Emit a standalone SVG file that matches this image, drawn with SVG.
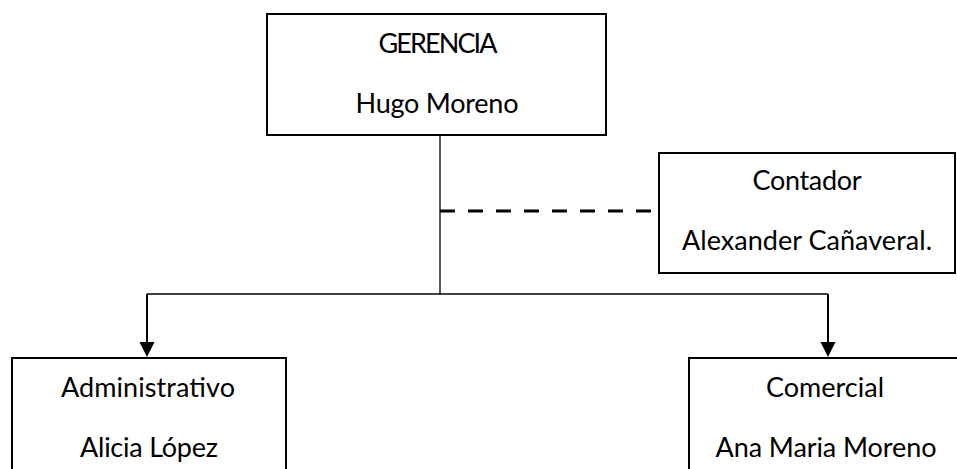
<svg xmlns="http://www.w3.org/2000/svg" width="957" height="469" viewBox="0 0 957 469">
<style>
.box{fill:#fff;stroke:#000;stroke-width:2}
.t{font-family:Lato,"Open Sans",sans-serif;font-size:27px;fill:#000;text-anchor:middle}
.ln{fill:none;stroke:#000;stroke-width:1.3}
.ar{fill:none;stroke:#000;stroke-width:2}
.dash{fill:none;stroke:#000;stroke-width:3;stroke-dasharray:15 13}
</style>
<defs>
<marker id="ah" markerUnits="userSpaceOnUse" markerWidth="16" markerHeight="16" viewBox="0 0 16 16" refX="0" refY="8" orient="auto">
<path d="M0,0.5 L15,8 L0,15.5 Z" fill="#000"/>
</marker>
</defs>
<rect width="957" height="469" fill="#fff"/>
<g id="connectors">
<line class="ln" x1="440" y1="135" x2="440" y2="294"/>
<line class="ln" x1="147" y1="294" x2="828" y2="294"/>
<line class="dash" x1="440" y1="211" x2="651" y2="211"/>
<path class="ar" d="M147,294 L147,342" marker-end="url(#ah)"/>
<path class="ar" d="M828,294 L828,342" marker-end="url(#ah)"/>
</g>
<g id="gerencia">
<rect class="box" x="267" y="14" width="339" height="121"/>
<text class="t" x="438" y="53" textLength="119">GERENCIA</text>
<text class="t" x="437" y="113" textLength="163">Hugo Moreno</text>
</g>
<g id="contador">
<rect class="box" x="659" y="153" width="296" height="120"/>
<text class="t" x="807" y="190" textLength="109">Contador</text>
<text class="t" x="807" y="250" textLength="250">Alexander Cañaveral.</text>
</g>
<g id="administrativo">
<rect class="box" x="12" y="358" width="274" height="130"/>
<text class="t" x="148" y="397" textLength="174">Administrativo</text>
<text class="t" x="149" y="457" textLength="138">Alicia López</text>
</g>
<g id="comercial">
<rect class="box" x="689" y="358" width="280" height="130"/>
<text class="t" x="825" y="397" textLength="118">Comercial</text>
<text class="t" x="826" y="457" textLength="221">Ana Maria Moreno</text>
</g>
</svg>
